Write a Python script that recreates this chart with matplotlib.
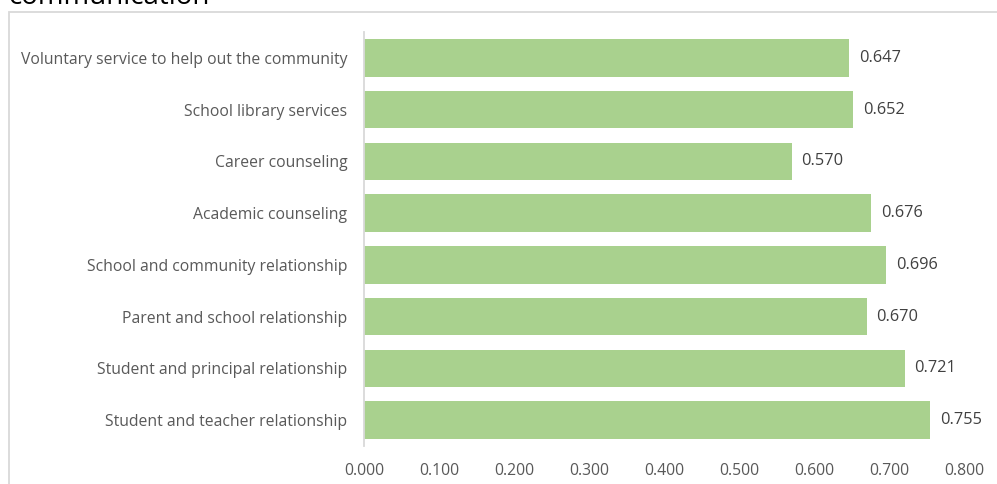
import matplotlib.pyplot as plt
from matplotlib.patches import Rectangle

# Данные
services = ['Student and teacher relationship',
            'Student and principal relationship',
            'Parent and school relationship',
            'School and community relationship',
            'Academic counseling',
            'Career counseling',
            'School library services',
            'Voluntary service to help out the community']
scores = [0.755, 0.721, 0.670, 0.696, 0.676, 0.570, 0.652, 0.647]
ticks = [0.0, 0.1, 0.2, 0.3, 0.4, 0.5, 0.6, 0.7, 0.8]

plt.rcParams['font.family'] = ['Open Sans', 'DejaVu Sans']
grey = '#595959'

fig = plt.figure(figsize=(9.97, 4.84), dpi=100)

# Рамка области диаграммы и обрезанный заголовок
fig.patches.append(Rectangle((9 / 997, -0.1), 1.2, 1 - 12 / 484 + 0.1,
                             transform=fig.transFigure, fill=False,
                             edgecolor='#D9D9D9', linewidth=1.3))
fig.text(8 / 997, 1 - 4 / 484, 'communication', fontsize=20,
         color='black', ha='left', va='baseline')

ax = fig.add_axes([364 / 997, 38 / 484, 600 / 997, 414 / 484])
y = range(len(services))
ax.barh(y, scores, height=0.72, color='#A9D18E')
for i, v in enumerate(scores):
    ax.text(v + 0.013, i, f'{v:.3f}', va='center', ha='left',
            fontsize=11.8, color='#404040')

ax.set_xlim(0, 0.8)
ax.set_ylim(-0.5, len(services) - 0.5)
ax.set_yticks(list(y))
ax.set_yticklabels(services, fontsize=11.3, color=grey)
ax.set_xticks(ticks)
ax.set_xticklabels([f'{t:.3f}' for t in ticks], fontsize=11.3, color=grey)
ax.tick_params(length=0)
ax.tick_params(axis='y', pad=12)
ax.tick_params(axis='x', pad=12)

for s in ['top', 'right', 'bottom']:
    ax.spines[s].set_visible(False)
ax.spines['left'].set_color('#D9D9D9')
ax.spines['left'].set_linewidth(1.3)

fig.savefig('out.png', dpi=100)
